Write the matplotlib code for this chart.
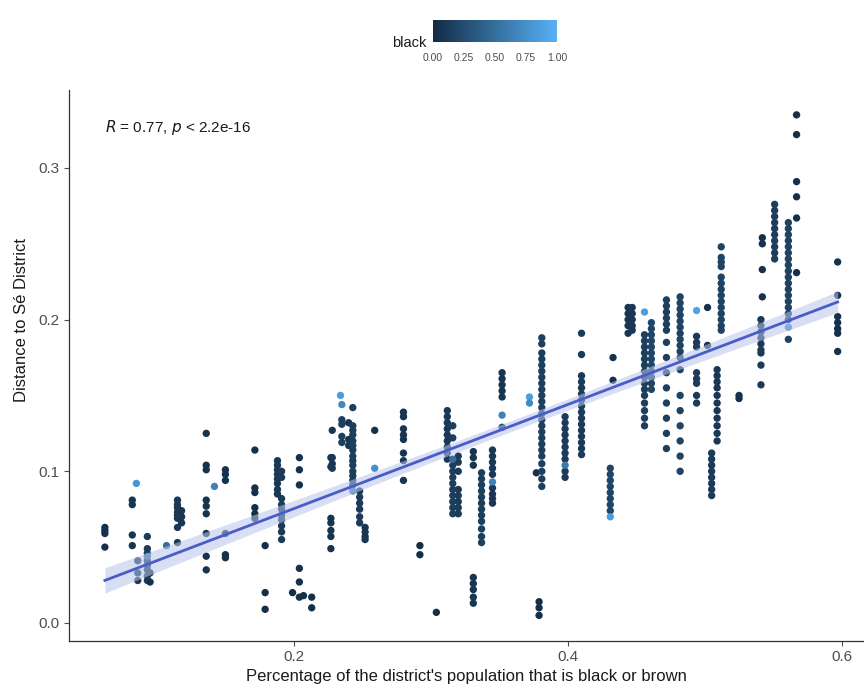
import numpy as np
import matplotlib.pyplot as plt
from matplotlib.colors import LinearSegmentedColormap

plt.rcParams['font.family'] = ['Liberation Sans', 'DejaVu Sans']

# district columns: share of black/brown population -> distances of its units
col_x = [0.062, 0.082, 0.086, 0.093, 0.095, 0.115, 0.118, 0.136, 0.150, 0.1715,
         0.179, 0.188, 0.191, 0.199, 0.204, 0.207, 0.213, 0.227, 0.235, 0.228,
         0.240, 0.243, 0.248, 0.252, 0.259, 0.280, 0.292, 0.304, 0.312, 0.316,
         0.320, 0.331, 0.337, 0.345, 0.352, 0.377, 0.379, 0.381, 0.398, 0.410,
         0.431, 0.433, 0.444, 0.447, 0.456, 0.461, 0.472, 0.482, 0.494, 0.502,
         0.505, 0.509, 0.512, 0.525, 0.541, 0.542, 0.551, 0.561, 0.567, 0.597]
col_y = [
    [0.063, 0.061, 0.059, 0.050],
    [0.081, 0.078, 0.058, 0.051],
    [0.041, 0.033, 0.028],
    [0.057, 0.049, 0.046, 0.041, 0.038, 0.035, 0.031, 0.028],
    [0.027, 0.033],
    [0.081, 0.078, 0.076, 0.073, 0.071, 0.069, 0.063, 0.053],
    [0.074, 0.070, 0.066],
    [0.125, 0.104, 0.101, 0.081, 0.077, 0.072, 0.059, 0.044, 0.035],
    [0.101, 0.098, 0.094, 0.059, 0.045, 0.043],
    [0.114, 0.089, 0.086, 0.076, 0.072, 0.069],
    [0.051, 0.020, 0.009],
    [0.107, 0.104, 0.101, 0.098, 0.095, 0.092, 0.088, 0.085],
    [0.100, 0.096, 0.082, 0.078, 0.075, 0.071, 0.068, 0.064, 0.060, 0.055],
    [0.020],
    [0.109, 0.101, 0.091, 0.036, 0.027, 0.017],
    [0.018],
    [0.017, 0.010],
    [0.109, 0.103, 0.069, 0.066, 0.061, 0.057, 0.049],
    [0.134, 0.131, 0.123, 0.119],
    [0.127, 0.109, 0.105, 0.102],
    [0.132, 0.121, 0.117],
    [0.142, 0.130, 0.127, 0.124, 0.120, 0.117, 0.114, 0.110, 0.107, 0.104,
     0.100, 0.097, 0.094, 0.091],
    [0.087, 0.083, 0.079, 0.075, 0.070, 0.066],
    [0.063, 0.060, 0.057, 0.055],
    [0.127],
    [0.139, 0.136, 0.128, 0.124, 0.121, 0.112, 0.107, 0.094],
    [0.051, 0.045],
    [0.007],
    [0.140, 0.136, 0.132, 0.128, 0.124, 0.120, 0.116, 0.112, 0.108],
    [0.130, 0.122, 0.104, 0.100, 0.096, 0.092, 0.088, 0.084, 0.080, 0.076, 0.072],
    [0.110, 0.106, 0.100, 0.088, 0.084, 0.080, 0.076, 0.072],
    [0.113, 0.109, 0.104, 0.030, 0.026, 0.022, 0.017, 0.013],
    [0.099, 0.095, 0.091, 0.087, 0.083, 0.079, 0.075, 0.071, 0.067, 0.062,
     0.057, 0.053],
    [0.114, 0.110, 0.106, 0.102, 0.098, 0.089, 0.085, 0.082, 0.079],
    [0.165, 0.161, 0.157, 0.153, 0.149, 0.129],
    [0.099],
    [0.014, 0.010, 0.005],
    [0.188, 0.184, 0.178, 0.174, 0.170, 0.166, 0.162, 0.158, 0.154, 0.150,
     0.146, 0.142, 0.138, 0.134, 0.130, 0.126, 0.122, 0.118, 0.114, 0.110,
     0.105, 0.100, 0.095, 0.090],
    [0.136, 0.132, 0.128, 0.124, 0.120, 0.116, 0.112, 0.108, 0.100, 0.096],
    [0.191, 0.177, 0.163, 0.159, 0.155, 0.151, 0.147, 0.143, 0.139, 0.135,
     0.131, 0.127, 0.123, 0.119, 0.115, 0.111],
    [0.102, 0.098, 0.094, 0.090, 0.086, 0.082, 0.078, 0.074],
    [0.175, 0.160],
    [0.208, 0.204, 0.200, 0.196, 0.191],
    [0.208, 0.204, 0.200, 0.196, 0.193],
    [0.190, 0.186, 0.182, 0.178, 0.174, 0.170, 0.166, 0.162, 0.158, 0.154,
     0.150, 0.145, 0.140, 0.135, 0.130],
    [0.198, 0.194, 0.190, 0.186, 0.182, 0.178, 0.174, 0.170, 0.166, 0.162,
     0.158, 0.154],
    [0.213, 0.209, 0.205, 0.201, 0.197, 0.193, 0.185, 0.175, 0.165, 0.155,
     0.145, 0.135, 0.125, 0.115],
    [0.215, 0.211, 0.207, 0.203, 0.199, 0.195, 0.191, 0.187, 0.183, 0.179,
     0.175, 0.167, 0.150, 0.140, 0.130, 0.120, 0.110, 0.100],
    [0.189, 0.185, 0.182, 0.165, 0.161, 0.158, 0.150, 0.145],
    [0.208, 0.183],
    [0.112, 0.108, 0.104, 0.100, 0.096, 0.092, 0.088, 0.084],
    [0.167, 0.163, 0.159, 0.155, 0.150, 0.145, 0.140, 0.135, 0.130, 0.125, 0.120],
    [0.248, 0.241, 0.238, 0.235, 0.228, 0.224, 0.220, 0.216, 0.212, 0.208,
     0.204, 0.200, 0.196, 0.193],
    [0.150, 0.148],
    [0.200, 0.196, 0.192, 0.188, 0.184, 0.180, 0.178, 0.170, 0.157],
    [0.254, 0.250, 0.233, 0.215],
    [0.276, 0.272, 0.268, 0.264, 0.260, 0.256, 0.252, 0.248, 0.244, 0.240],
    [0.264, 0.260, 0.256, 0.252, 0.248, 0.244, 0.240, 0.236, 0.232, 0.228,
     0.224, 0.220, 0.216, 0.212, 0.208, 0.204, 0.200, 0.187],
    [0.335, 0.322, 0.291, 0.281, 0.267, 0.231],
    [0.238, 0.216, 0.202, 0.198, 0.194, 0.191, 0.179],
]
# share of black population in each column (dark end of the scale)
col_black = [0.05, 0.08, 0.10, 0.12, 0.05, 0.10, 0.08, 0.06, 0.05, 0.04,
             0.03, 0.10, 0.12, 0.03, 0.05, 0.03, 0.03, 0.06, 0.15, 0.10,
             0.08, 0.15, 0.12, 0.08, 0.05, 0.08, 0.03, 0.03, 0.10, 0.15,
             0.12, 0.08, 0.15, 0.10, 0.08, 0.05, 0.03, 0.15, 0.12, 0.12,
             0.20, 0.05, 0.08, 0.10, 0.15, 0.20, 0.15, 0.18, 0.12, 0.05,
             0.12, 0.10, 0.18, 0.05, 0.12, 0.05, 0.15, 0.18, 0.04, 0.05]

# units with a high share of black population
light_x = [0.085, 0.107, 0.142, 0.234, 0.235, 0.243, 0.259, 0.316, 0.345, 0.352,
           0.372, 0.372, 0.398, 0.431, 0.456, 0.494, 0.561, 0.093]
light_y = [0.092, 0.051, 0.090, 0.150, 0.144, 0.087, 0.102, 0.108, 0.093, 0.137,
           0.149, 0.145, 0.104, 0.070, 0.205, 0.206, 0.195, 0.044]
light_black = [0.80, 0.50, 0.65, 0.85, 0.70, 0.60, 0.75, 0.50, 0.65, 0.65,
               0.85, 0.70, 0.60, 0.85, 0.85, 0.90, 0.70, 0.50]

x_all, y_all, c_all = [], [], []
for xv, ys, b in zip(col_x, col_y, col_black):
    x_all += [xv] * len(ys)
    y_all += ys
    c_all += [b] * len(ys)
x_all = np.array(x_all + light_x)
y_all = np.array(y_all + light_y)
c_all = np.array(c_all + light_black)

# ggplot-like continuous scale
cmap = LinearSegmentedColormap.from_list('gg', ['#132B43', '#56B1F7'])

fig = plt.figure(figsize=(8.64, 6.85), dpi=100)
ax = fig.add_axes([69 / 864, 44 / 685, 807 / 864, 551 / 685])

sc = ax.scatter(x_all, y_all, c=c_all, cmap=cmap, vmin=0, vmax=1,
                s=28, linewidths=0, zorder=2)

# linear fit with 95% confidence band
n = len(x_all)
slope, intercept = np.polyfit(x_all, y_all, 1)
resid = y_all - (slope * x_all + intercept)
s_err = np.sqrt(np.sum(resid ** 2) / (n - 2))
xm = x_all.mean()
sxx = np.sum((x_all - xm) ** 2)
xs = np.linspace(x_all.min(), x_all.max(), 100)
fit = slope * xs + intercept
band = 1.966 * s_err * np.sqrt(1 / n + (xs - xm) ** 2 / sxx)
ax.fill_between(xs, fit - band, fit + band, color='#b9c6ee', alpha=0.55,
                linewidth=0, zorder=3)
ax.plot(xs, fit, color='#4a5cc8', lw=2, zorder=4)

ax.text(0.062, 0.3265, r'$R$ = 0.77, $p$ < 2.2e-16', fontsize=11,
        color='#1a1a1a', va='center')

ax.set_xlim(0.0358, 0.625)
ax.set_ylim(-0.0119, 0.3514)
ax.set_xticks([0.2, 0.4, 0.6])
ax.set_yticks([0.0, 0.1, 0.2, 0.3])
ax.set_xticklabels(['0.2', '0.4', '0.6'])
ax.set_yticklabels(['0.0', '0.1', '0.2', '0.3'])
ax.tick_params(colors='#4d4d4d', labelsize=11, length=3.5, width=0.8, pad=3)
for side in ['top', 'right']:
    ax.spines[side].set_visible(False)
for side in ['left', 'bottom']:
    ax.spines[side].set_color('#333333')
    ax.spines[side].set_linewidth(0.9)

fig.text(466 / 864, 1 - 676 / 685,
         "Percentage of the district's population that is black or brown",
         ha='center', va='center', fontsize=12, color='#1a1a1a')
fig.text(22 / 864, 365 / 685, 'Distance to Sé District', rotation=90,
         ha='center', va='center', fontsize=12, color='#1a1a1a')

# colour legend on top
cax = fig.add_axes([433 / 864, 1 - 42 / 685, 124 / 864, 22 / 685])
cb = fig.colorbar(sc, cax=cax, orientation='horizontal')
cb.outline.set_visible(False)
cb.set_ticks([0, 0.25, 0.5, 0.75, 1.0])
cb.set_ticklabels(['0.00', '0.25', '0.50', '0.75', '1.00'])
cax.tick_params(labelsize=7.5, colors='#4d4d4d', length=0, pad=8)
fig.text(426 / 864, 1 - 43 / 685, 'black', ha='right', va='center',
         fontsize=10.5, color='#1a1a1a')

fig.savefig('out.png', dpi=100)
